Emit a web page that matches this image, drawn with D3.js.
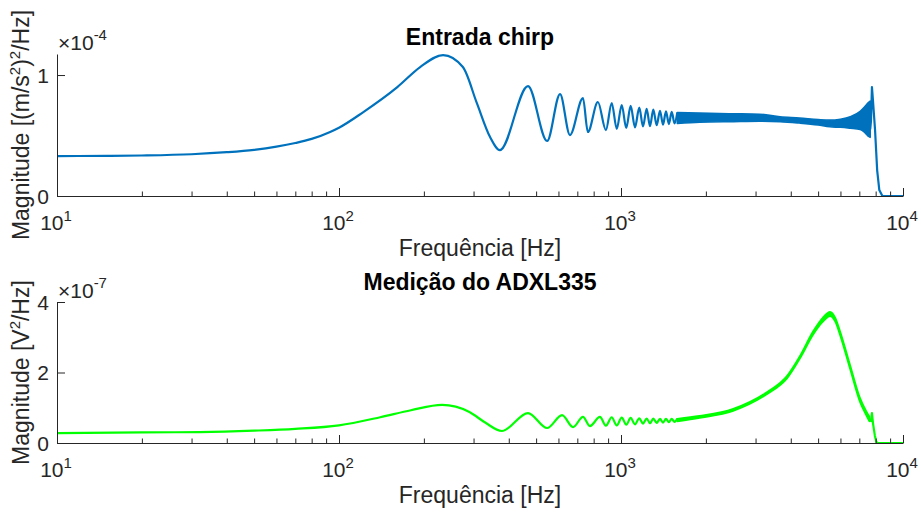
<!DOCTYPE html>
<html><head><meta charset="utf-8">
<script src="https://cdn.jsdelivr.net/npm/d3@7"></script>
<style>
body{margin:0;background:#fff;}
svg{display:block;font-family:"Liberation Sans",Arial,Helvetica,sans-serif;}
</style></head>
<body><svg id="c" width="921" height="515"></svg>
<script>
// ---------- data ----------
const xTickValues = [10, 100, 1000, 10000];
const xTickExponents = ["1", "2", "3", "4"];

// Top: "Entrada chirp"  (values in units of 1e-4)
const topTitle = "Entrada chirp";
const topYLabelTicks = [0, 1];
const topYLabelText = ["0", "1"];
const topFreq = [10, 15, 20, 30, 40, 50, 60, 70, 80, 93, 100, 122, 161, 194, 234, 275, 308, 343, 372, 468, 547, 608, 659, 733, 763, 828, 884, 927, 966, 1006, 1044, 1082, 1121, 1161, 1197, 1233, 1267, 1302, 1338, 1375, 1409, 1444, 1478, 1513, 1548, 1584];
const topVal  = [0.33, 0.332, 0.335, 0.345, 0.362, 0.382, 0.408, 0.438, 0.472, 0.53, 0.565, 0.694, 0.90, 1.066, 1.165, 1.066, 0.77, 0.49, 0.38, 0.909, 0.455, 0.843, 0.504, 0.81, 0.529, 0.777, 0.545, 0.769, 0.555, 0.752, 0.562, 0.745, 0.568, 0.73, 0.575, 0.72, 0.578, 0.715, 0.585, 0.705, 0.59, 0.70, 0.595, 0.695, 0.60, 0.69];
const topBandFreq  = [1584, 1900, 2500, 3100, 3665, 4300, 5000, 5500, 6000, 6500, 7050, 7300, 7520, 7650];
const topBandUpper = [0.69, 0.685, 0.68, 0.676, 0.655, 0.645, 0.632, 0.627, 0.635, 0.655, 0.70, 0.735, 0.77, 0.785];
const topBandLower = [0.60, 0.61, 0.615, 0.618, 0.615, 0.603, 0.587, 0.572, 0.568, 0.56, 0.55, 0.527, 0.495, 0.485];
const topTailFreq = [7650, 7700, 7760, 7820, 7960, 8100, 8240, 8450, 10000];
const topTailVal  = [0.55, 0.62, 0.90, 0.80, 0.545, 0.21, 0.05, 0.0, 0.0];

// Bottom: "Medição do ADXL335" (values in units of 1e-7)
const botTitle = "Medição do ADXL335";
const botYLabelTicks = [0, 2, 4];
const botYLabelText = ["0", "2", "4"];
const botFreq = [10, 20, 32, 50, 70, 100, 140, 180, 232, 290, 330, 378, 468, 547, 618, 676, 733, 776, 842, 884, 927, 966, 1006, 1044, 1082, 1121, 1161, 1197, 1233, 1267, 1302, 1338, 1375, 1409, 1444, 1478, 1513, 1548, 1584];
const botVal  = [0.28, 0.30, 0.31, 0.35, 0.40, 0.50, 0.73, 0.93, 1.08, 0.88, 0.58, 0.34, 0.85, 0.425, 0.79, 0.45, 0.74, 0.48, 0.74, 0.49, 0.73, 0.50, 0.72, 0.52, 0.71, 0.53, 0.70, 0.55, 0.695, 0.56, 0.69, 0.57, 0.685, 0.58, 0.685, 0.59, 0.685, 0.60, 0.69];
const botBandFreq  = [1584, 1900, 2500, 3300, 3880, 4315, 4800, 5200, 5510, 5750, 5980, 6490, 7040, 7400, 7600];
const botBandUpper = [0.69, 0.77, 0.97, 1.45, 1.91, 2.48, 3.17, 3.56, 3.72, 3.56, 3.18, 2.22, 1.28, 0.91, 0.75];
const botBandLower = [0.61, 0.71, 0.91, 1.39, 1.83, 2.40, 3.07, 3.44, 3.60, 3.44, 3.06, 2.10, 1.16, 0.79, 0.61];
const botTailFreq = [7600, 7700, 7760, 7830, 7950, 8050, 8150, 10000];
const botTailVal  = [0.68, 0.62, 0.85, 0.55, 0.20, 0.02, 0.0, 0.0];

// ---------- drawing ----------
const svg = d3.select("#c");
const axisColor = "#262626";
const X0 = 57, X1 = 903;
const x = d3.scaleLog().domain([10, 10000]).range([X0, X1]);
const minorTicks = [];
for (let d = 10; d < 10000; d *= 10) for (let k = 2; k <= 9; k++) minorTicks.push(d * k);

function panel(o) {
  const y = d3.scaleLinear().domain([0, o.ymax]).range([o.bottom, o.top]);
  const g = svg.append("g");

  // dense band
  const area = d3.area().curve(d3.curveMonotoneX)
    .x((d, i) => x(o.bandF[i])).y0((d, i) => y(o.bandL[i])).y1((d, i) => y(o.bandU[i]));
  g.append("path").datum(o.bandF).attr("d", area).attr("fill", o.color).attr("stroke", o.color)
    .attr("stroke-width", 1.6).attr("stroke-linejoin", "round");
  const line = d3.line().x(d => x(d)).curve(d3.curveMonotoneX);
  g.append("path").attr("d", line.y((d, i) => y(o.val[i]))(o.freq)).attr("fill", "none")
    .attr("stroke", o.color).attr("stroke-width", 2.2);
  g.append("path").attr("d", d3.line().x(d => x(d)).y((d, i) => y(o.tailV[i]))(o.tailF)).attr("fill", "none")
    .attr("stroke", o.color).attr("stroke-width", 2.2).attr("stroke-linejoin", "round");

  // x axis
  const ax = g.append("g").attr("transform", `translate(0,${o.bottom})`)
    .call(d3.axisBottom(x).tickValues(minorTicks).tickSizeInner(-4.5).tickSizeOuter(0).tickFormat(""));
  const ax2 = g.append("g").attr("transform", `translate(0,${o.bottom})`)
    .call(d3.axisBottom(x).tickValues(xTickValues).tickSizeInner(-8).tickSizeOuter(0).tickFormat(""));
  [ax, ax2].forEach(a => { a.selectAll("path,line").attr("stroke", axisColor); });
  ax2.select("path").remove();
  xTickValues.forEach((v, i) => {
    const t = g.append("text").attr("x", x(v) - 1).attr("y", o.bottom + 34).attr("text-anchor", "middle")
      .attr("font-size", 21).attr("fill", axisColor);
    t.append("tspan").text("10");
    t.append("tspan").attr("dy", -9).attr("font-size", 15).text(xTickExponents[i]);
  });

  // y axis
  const ay = g.append("g").attr("transform", `translate(${X0},0)`)
    .call(d3.axisLeft(y).tickValues(o.yTicks).tickSizeInner(-8).tickSizeOuter(0).tickFormat(""));
  ay.selectAll("path,line").attr("stroke", axisColor);
  o.yTicks.forEach((v, i) => {
    g.append("text").attr("x", X0 - 8).attr("y", y(v) + 7.5).attr("text-anchor", "end")
      .attr("font-size", 21).attr("fill", axisColor).text(o.yText[i]);
  });
  const e = g.append("text").attr("x", 58).attr("y", o.top - 4).attr("font-size", 21).attr("fill", axisColor);
  e.append("tspan").text("\u00d710");
  e.append("tspan").attr("dy", -10).attr("font-size", 15).text(o.exp);

  // title
  g.append("text").attr("x", 480).attr("y", o.titleY).attr("text-anchor", "middle")
    .attr("font-size", 23).attr("font-weight", "bold").attr("fill", "#000").text(o.title);
  // x label
  g.append("text").attr("x", 480).attr("y", o.bottom + 60).attr("text-anchor", "middle")
    .attr("font-size", 23).attr("fill", axisColor).text("Frequência [Hz]");
  // y label
  const yl = g.append("text").attr("transform", `translate(29,${(o.top + o.bottom) / 2}) rotate(-90)`)
    .attr("text-anchor", "middle").attr("font-size", 23).attr("fill", axisColor);
  o.ylabel.forEach(p => {
    const s = yl.append("tspan").text(p[0]);
    if (p[1]) s.attr("font-size", 15).attr("dy", -9);
    if (p[2]) s.attr("dy", 9);
  });
}

panel({
  top: 54, bottom: 196, ymax: 1.174, color: "#0072BD",
  freq: topFreq, val: topVal, bandF: topBandFreq, bandU: topBandUpper, bandL: topBandLower,
  tailF: topTailFreq, tailV: topTailVal,
  yTicks: topYLabelTicks, yText: topYLabelText, exp: "-4", title: topTitle, titleY: 45,
  ylabel: [["Magnitude [(m/s"], ["2", true], [")", false, true], ["2", true], ["/Hz]", false, true]]
});
panel({
  top: 302, bottom: 443, ymax: 4, color: "#00FF00",
  freq: botFreq, val: botVal, bandF: botBandFreq, bandU: botBandUpper, bandL: botBandLower,
  tailF: botTailFreq, tailV: botTailVal,
  yTicks: botYLabelTicks, yText: botYLabelText, exp: "-7", title: botTitle, titleY: 290,
  ylabel: [["Magnitude [V"], ["2", true], ["/Hz]", false, true]]
});
</script></body></html>
